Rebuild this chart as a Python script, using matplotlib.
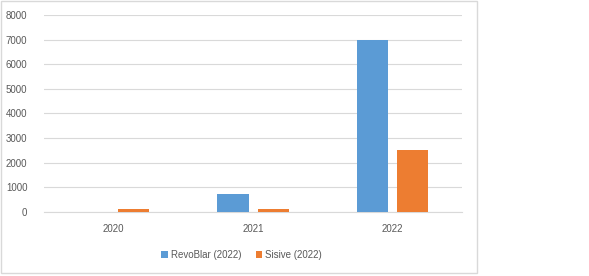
import numpy as np
import matplotlib.pyplot as plt
from matplotlib.patches import Rectangle

years = ["2020", "2021", "2022"]
revoblar = [0, 700, 7000]
sisive = [100, 100, 2500]
y_ticks = [0, 1000, 2000, 3000, 4000, 5000, 6000, 7000, 8000]

fig = plt.figure(figsize=(5.89, 2.76), dpi=100)
plt.rcParams['font.family'] = ['Liberation Sans', 'DejaVu Sans']

# chart frame
fig.patches.append(Rectangle((0.001, 0.011), 808 / 1000 - 0.0, 0.985, transform=fig.transFigure,
                             fill=False, edgecolor="#d9d9d9", linewidth=1))

ax = fig.add_axes([0.0747, 0.233, 0.710, 0.7127])
x = np.arange(len(years))
w = 0.223
off = 0.144
ax.bar(x - off, revoblar, w, color="#5b9bd5", label="RevoBlar (2022)", zorder=3)
ax.bar(x + off, sisive, w, color="#ed7d31", label="Sisive (2022)", zorder=3)

ax.set_xlim(-0.5, 2.5)
ax.set_ylim(0, 8000)
ax.set_yticks(y_ticks)
ax.set_xticks(x)
ax.set_xticklabels(years)
ax.tick_params(axis="both", length=0, colors="#595959", labelsize=7)
ax.tick_params(axis="x", pad=9)
ax.tick_params(axis="y", pad=12)
ax.grid(axis="y", color="#d9d9d9", linewidth=0.8, zorder=0)
for s in ["top", "right", "left"]:
    ax.spines[s].set_visible(False)
ax.spines["bottom"].set_color("#d9d9d9")

fig.legend(loc="center", bbox_to_anchor=(0.41, 0.076), ncol=2, frameon=False,
           fontsize=7, handlelength=0.7, handleheight=0.7, columnspacing=1.5,
           handletextpad=0.3, labelcolor="#595959")

fig.savefig("out.png", dpi=100)
